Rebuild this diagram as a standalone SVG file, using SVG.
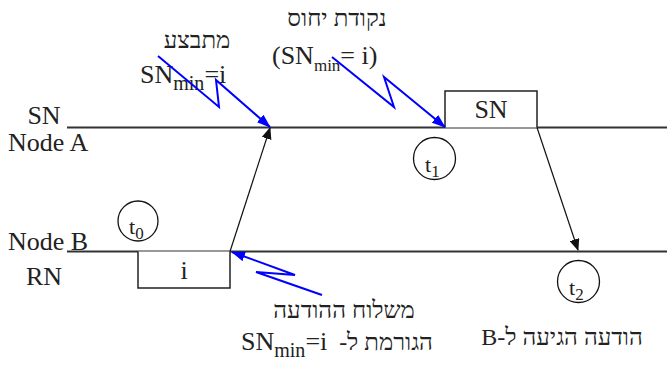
<svg xmlns="http://www.w3.org/2000/svg" width="667" height="365" viewBox="0 0 667 365">
<style>
text{font-family:"Liberation Serif","DejaVu Serif",serif;fill:#222}
.lbl{font-size:26px}
.heb{font-size:24px}
.sub{font-size:17px}
.subw{font-size:20px}
.tl{font-size:22px}
.axis{stroke:#333;stroke-width:1.8;fill:none}
.box{stroke:#222;stroke-width:1.5;fill:#fff}
.clock{stroke:#111;stroke-width:1.3;fill:none}
.msg{stroke:#111;stroke-width:1.2;fill:none;marker-end:url(#ah)}
.bolt{stroke:#0000ff;stroke-width:2;fill:none;marker-end:url(#bh)}
</style>
<defs>
<marker id="ah" markerWidth="12" markerHeight="10" refX="11" refY="5" orient="auto" markerUnits="userSpaceOnUse"><path d="M0,0 L12,5 L0,10 Z" fill="#111"/></marker>
<marker id="bh" markerWidth="14" markerHeight="10" refX="13" refY="5" orient="auto" markerUnits="userSpaceOnUse"><path d="M0,0 L14,5 L0,10 Z" fill="#0000ff"/></marker>
</defs>
<rect width="667" height="365" fill="#fff"/>
<g id="nodeA">
<line class="axis" x1="67" y1="127.5" x2="667" y2="127.5"/>
<text class="lbl" x="44" y="124" text-anchor="middle">SN</text>
<text class="lbl" x="8" y="151">Node A</text>
</g>
<g id="nodeB">
<line class="axis" x1="67" y1="251.5" x2="667" y2="251.5"/>
<text class="lbl" x="8" y="250">Node B</text>
<text class="lbl" x="44" y="285" text-anchor="middle">RN</text>
</g>
<g id="boxSN">
<path class="box" d="M445,127.5 V91 H537 V127.5"/>
<text class="lbl" x="491" y="118" text-anchor="middle">SN</text>
</g>
<g id="boxI">
<path class="box" d="M138,251.5 V288 H230 V251.5"/>
<text class="lbl" x="184" y="279" text-anchor="middle">i</text>
</g>
<g id="t0">
<circle class="clock" cx="138" cy="221" r="20"/>
<text class="tl" x="129" y="234">t<tspan class="sub" dy="5">0</tspan></text>
</g>
<g id="t1">
<circle class="clock" cx="434.5" cy="158.5" r="21"/>
<text class="tl" x="425" y="172">t<tspan class="sub" dy="5">1</tspan></text>
</g>
<g id="t2">
<circle class="clock" cx="578.5" cy="281.5" r="21"/>
<text class="tl" x="569" y="295">t<tspan class="sub" dy="5">2</tspan></text>
</g>
<g id="labels">
<text class="heb" x="197" y="48" text-anchor="middle" direction="rtl">מתבצע</text>
<text class="lbl" x="140" y="83">SN<tspan class="subw" dy="7">min</tspan><tspan dy="-7">=i</tspan></text>
<text class="heb" x="337" y="26" text-anchor="middle" direction="rtl">נקודת יחוס</text>
<text class="lbl" x="272" y="64">(SN<tspan class="sub" dy="7">min</tspan><tspan dy="-7">= i)</tspan></text>
<text class="heb" x="344" y="318" text-anchor="middle" direction="rtl">משלוח ההודעה</text>
<text class="lbl" x="241" y="350">SN<tspan class="subw" dy="7">min</tspan><tspan dy="-7">=i</tspan></text>
<text class="heb" x="386" y="350" text-anchor="middle" direction="rtl">הגורמת ל-</text>
<text class="heb" x="562" y="345" text-anchor="middle" direction="rtl">הודעה הגיעה ל-B</text>
</g>
<g id="connectors">
<line class="msg" x1="230" y1="251.5" x2="270" y2="128"/>
<line class="msg" x1="537" y1="127.5" x2="578" y2="250"/>
<polyline class="bolt" points="158,56 219,107 216,80 270,127"/>
<polyline class="bolt" points="332,57 394,107 384,77 445,127"/>
<polyline class="bolt" points="322,295 256,272 295,275 232,252"/>
</g>
</svg>
